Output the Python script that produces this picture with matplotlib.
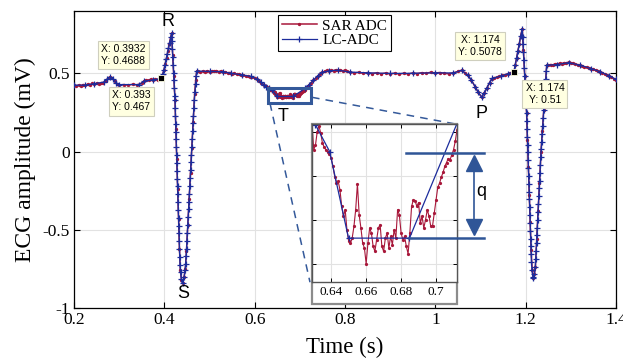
import matplotlib
matplotlib.use('Agg')
import matplotlib.pyplot as plt
import numpy as np
from matplotlib.patches import Rectangle

# ---- data (time s, amplitude mV) ----
# SAR ADC samples
sar_pts = [
    (0.200, 0.422), (0.205, 0.418), (0.210, 0.425), (0.215, 0.420), (0.220, 0.428),
    (0.225, 0.423), (0.230, 0.431), (0.235, 0.426), (0.240, 0.435), (0.245, 0.430),
    (0.250, 0.437), (0.255, 0.432), (0.260, 0.436), (0.265, 0.440), (0.270, 0.452),
    (0.275, 0.468), (0.280, 0.478), (0.285, 0.470), (0.290, 0.448), (0.295, 0.432),
    (0.300, 0.425), (0.310, 0.428), (0.320, 0.424), (0.330, 0.430), (0.340, 0.426),
    (0.350, 0.438), (0.355, 0.452), (0.360, 0.458), (0.365, 0.455), (0.370, 0.462),
    (0.375, 0.457), (0.380, 0.463), (0.385, 0.460), (0.390, 0.466), (0.3932, 0.4688),
    (0.396, 0.490), (0.399, 0.520), (0.402, 0.560), (0.405, 0.600), (0.408, 0.645),
    (0.411, 0.690), (0.414, 0.730), (0.416, 0.755), (0.4185, 0.620), (0.421, 0.480),
    (0.4236, 0.327), (0.4255, 0.145), (0.4275, -0.045), (0.4295, -0.240), (0.4315, -0.430),
    (0.4335, -0.620), (0.4355, -0.760), (0.438, -0.820), (0.4405, -0.838), (0.4435, -0.805),
    (0.4465, -0.750), (0.449, -0.635), (0.452, -0.470), (0.455, -0.305), (0.458, -0.140),
    (0.461, 0.025), (0.464, 0.190), (0.467, 0.365), (0.4695, 0.460), (0.4716, 0.514),
    (0.475, 0.512), (0.480, 0.508), (0.485, 0.514), (0.490, 0.510), (0.495, 0.516),
    (0.500, 0.511), (0.505, 0.515), (0.510, 0.512), (0.515, 0.517), (0.520, 0.511),
    (0.525, 0.514), (0.530, 0.508), (0.535, 0.510), (0.540, 0.503), (0.545, 0.505),
    (0.550, 0.498), (0.555, 0.500), (0.560, 0.494), (0.565, 0.495), (0.570, 0.490),
    (0.575, 0.488), (0.580, 0.483), (0.585, 0.484), (0.590, 0.478), (0.595, 0.476),
    (0.600, 0.470), (0.605, 0.462), (0.610, 0.452), (0.615, 0.440), (0.620, 0.428),
    (0.624, 0.418), (0.627, 0.410),
    # T wave, 1 kHz (zoomed region)
    (0.629, 0.4041), (0.630, 0.3920), (0.631, 0.3942), (0.632, 0.4003), (0.633, 0.4029),
    (0.634, 0.3995), (0.635, 0.3950), (0.636, 0.3932), (0.637, 0.3920), (0.638, 0.3908),
    (0.639, 0.3902), (0.640, 0.3882), (0.641, 0.3844), (0.642, 0.3798), (0.643, 0.3771),
    (0.644, 0.3776), (0.645, 0.3738), (0.646, 0.3662), (0.647, 0.3617), (0.648, 0.3647),
    (0.649, 0.3556), (0.650, 0.3503), (0.651, 0.3495), (0.652, 0.3518), (0.653, 0.3571),
    (0.654, 0.3647), (0.655, 0.3765), (0.656, 0.3624), (0.657, 0.3564), (0.658, 0.3495),
    (0.659, 0.3473), (0.660, 0.3402), (0.661, 0.3495), (0.662, 0.3564), (0.663, 0.3541),
    (0.664, 0.3480), (0.665, 0.3458), (0.666, 0.3511), (0.667, 0.3564), (0.668, 0.3579),
    (0.669, 0.3480), (0.670, 0.3458), (0.671, 0.3518), (0.672, 0.3541), (0.673, 0.3473),
    (0.674, 0.3526), (0.675, 0.3488), (0.676, 0.3556), (0.677, 0.3518), (0.678, 0.3647),
    (0.679, 0.3624), (0.680, 0.3541), (0.681, 0.3511), (0.682, 0.3526), (0.683, 0.3480),
    (0.684, 0.3447), (0.685, 0.3541), (0.686, 0.3662), (0.687, 0.3692), (0.688, 0.3689),
    (0.689, 0.3662), (0.690, 0.3680), (0.691, 0.3586), (0.692, 0.3617), (0.693, 0.3564),
    (0.694, 0.3602), (0.695, 0.3647), (0.696, 0.3617), (0.697, 0.3571), (0.698, 0.3574),
    (0.699, 0.3632), (0.700, 0.3692), (0.701, 0.3750), (0.702, 0.3768), (0.703, 0.3795),
    (0.704, 0.3817), (0.705, 0.3844), (0.706, 0.3862), (0.707, 0.3880), (0.708, 0.3874),
    (0.709, 0.3897), (0.710, 0.3920), (0.711, 0.3958), (0.712, 0.4011),
    (0.715, 0.410), (0.720, 0.424), (0.725, 0.440), (0.730, 0.455), (0.735, 0.470),
    (0.740, 0.484), (0.745, 0.496), (0.750, 0.506), (0.755, 0.512), (0.760, 0.518),
    (0.765, 0.515), (0.770, 0.521), (0.775, 0.517), (0.780, 0.523), (0.785, 0.518),
    (0.790, 0.522), (0.795, 0.516), (0.800, 0.519), (0.805, 0.512), (0.810, 0.508),
    (0.820, 0.502), (0.830, 0.506), (0.840, 0.500), (0.850, 0.505), (0.860, 0.498),
    (0.870, 0.503), (0.880, 0.497), (0.890, 0.502), (0.900, 0.496), (0.910, 0.501),
    (0.920, 0.495), (0.930, 0.500), (0.940, 0.496), (0.950, 0.502), (0.960, 0.498),
    (0.970, 0.504), (0.980, 0.500), (0.990, 0.507), (1.000, 0.502), (1.010, 0.505),
    (1.020, 0.499), (1.030, 0.497), (1.040, 0.503), (1.050, 0.512), (1.058, 0.519),
    (1.065, 0.505), (1.072, 0.487), (1.080, 0.455), (1.088, 0.415), (1.095, 0.378),
    (1.1025, 0.348), (1.108, 0.372), (1.114, 0.405), (1.120, 0.440), (1.125, 0.466),
    (1.130, 0.472), (1.136, 0.474), (1.142, 0.480), (1.148, 0.486), (1.154, 0.490),
    (1.160, 0.497), (1.165, 0.502), (1.169, 0.505), (1.174, 0.5078), (1.177, 0.555),
    (1.180, 0.600), (1.183, 0.645), (1.186, 0.690), (1.189, 0.740), (1.1925, 0.785),
    (1.195, 0.650), (1.198, 0.480), (1.2021, 0.244), (1.204, 0.075), (1.206, -0.100),
    (1.208, -0.280), (1.210, -0.450), (1.212, -0.630), (1.2145, -0.760), (1.217, -0.810),
    (1.2195, -0.780), (1.2215, -0.736), (1.2245, -0.560), (1.2275, -0.380), (1.2305, -0.200),
    (1.234, 0.000), (1.237, 0.130), (1.240, 0.265), (1.2435, 0.420), (1.2465, 0.551),
    (1.250, 0.552), (1.255, 0.556), (1.260, 0.553), (1.265, 0.560), (1.270, 0.558),
    (1.275, 0.565), (1.280, 0.562), (1.285, 0.568), (1.290, 0.566), (1.295, 0.572),
    (1.300, 0.566), (1.305, 0.563), (1.310, 0.558), (1.315, 0.556), (1.320, 0.550),
    (1.325, 0.548), (1.330, 0.541), (1.335, 0.540), (1.340, 0.533), (1.345, 0.530),
    (1.350, 0.526), (1.355, 0.520), (1.360, 0.516), (1.365, 0.509), (1.370, 0.504),
    (1.375, 0.496), (1.380, 0.490), (1.385, 0.482), (1.390, 0.476), (1.395, 0.466),
    (1.400, 0.459),
]

# LC-ADC level crossing samples
lc_pts = [
    (0.200, 0.424), (0.225, 0.424), (0.245, 0.434), (0.266, 0.444), (0.273, 0.462),
    (0.280, 0.476), (0.287, 0.462), (0.293, 0.440), (0.300, 0.428), (0.345, 0.428),
    (0.356, 0.450), (0.375, 0.458), (0.393, 0.467),
    (0.3965, 0.495), (0.3990, 0.520), (0.4015, 0.555), (0.4040, 0.590), (0.4065, 0.625),
    (0.4090, 0.660), (0.4115, 0.695), (0.4140, 0.730), (0.4160, 0.755),
    (0.4169, 0.705), (0.4178, 0.655), (0.4187, 0.605), (0.4196, 0.555), (0.4205, 0.505),
    (0.4213, 0.455), (0.4222, 0.405), (0.4231, 0.355), (0.4236, 0.327), (0.4241, 0.277),
    (0.4246, 0.227), (0.4252, 0.177), (0.4257, 0.127), (0.4262, 0.077), (0.4267, 0.027),
    (0.4272, -0.023), (0.4278, -0.073), (0.4283, -0.123), (0.4288, -0.173), (0.4293, -0.223),
    (0.4298, -0.273), (0.4304, -0.323), (0.4309, -0.373), (0.4314, -0.423), (0.4319, -0.473),
    (0.4324, -0.523), (0.4330, -0.573), (0.4335, -0.623), (0.4340, -0.673), (0.4346, -0.723),
    (0.4358, -0.773), (0.4375, -0.813), (0.4405, -0.838),
    (0.4440, -0.800), (0.4458, -0.760), (0.4470, -0.720), (0.4482, -0.670), (0.4491, -0.620),
    (0.4500, -0.570), (0.4509, -0.520), (0.4518, -0.470), (0.4527, -0.420), (0.4536, -0.370),
    (0.4545, -0.320), (0.4554, -0.270), (0.4563, -0.220), (0.4572, -0.170), (0.4581, -0.120),
    (0.4590, -0.070), (0.4600, -0.020), (0.4609, 0.030), (0.4618, 0.080), (0.4627, 0.130),
    (0.4636, 0.180), (0.4645, 0.230), (0.4654, 0.280), (0.4663, 0.330), (0.4677, 0.380),
    (0.4691, 0.430), (0.4705, 0.480), (0.4716, 0.514),
    (0.500, 0.512), (0.530, 0.510), (0.548, 0.500), (0.572, 0.490), (0.592, 0.480),
    (0.605, 0.462), (0.613, 0.445), (0.620, 0.428), (0.626, 0.412), (0.6309, 0.4035),
    (0.6391, 0.3912), (0.6499, 0.3518), (0.6848, 0.3518), (0.7118, 0.4036), (0.720, 0.425),
    (0.730, 0.455), (0.740, 0.484), (0.750, 0.506), (0.765, 0.516), (0.785, 0.520),
    (0.810, 0.508), (0.850, 0.503), (0.900, 0.499), (0.950, 0.500), (1.000, 0.503),
    (1.040, 0.502), (1.058, 0.518), (1.072, 0.488), (1.080, 0.455), (1.088, 0.415),
    (1.095, 0.378), (1.1025, 0.348), (1.108, 0.372), (1.114, 0.405), (1.120, 0.440),
    (1.126, 0.468), (1.145, 0.482), (1.160, 0.496), (1.174, 0.510),
    (1.1770, 0.555), (1.1800, 0.600), (1.1830, 0.645), (1.1860, 0.690), (1.1890, 0.740),
    (1.1925, 0.785), (1.1934, 0.735), (1.1943, 0.685), (1.1952, 0.635), (1.1961, 0.585),
    (1.1970, 0.535), (1.1979, 0.485), (1.1988, 0.435), (1.1997, 0.385), (1.2005, 0.335),
    (1.2014, 0.285), (1.2021, 0.244), (1.2027, 0.194), (1.2033, 0.144), (1.2038, 0.094),
    (1.2044, 0.044), (1.2050, -0.006), (1.2055, -0.056), (1.2061, -0.106), (1.2067, -0.156),
    (1.2072, -0.206), (1.2078, -0.256), (1.2084, -0.306), (1.2089, -0.356), (1.2095, -0.406),
    (1.2101, -0.456), (1.2106, -0.506), (1.2112, -0.556), (1.2118, -0.606), (1.2123, -0.656),
    (1.2129, -0.706), (1.2140, -0.756), (1.2160, -0.800), (1.2170, -0.810), (1.2195, -0.780),
    (1.2215, -0.736), (1.2223, -0.686), (1.2232, -0.636), (1.2240, -0.586), (1.2249, -0.536),
    (1.2257, -0.486), (1.2266, -0.436), (1.2274, -0.386), (1.2283, -0.336), (1.2291, -0.286),
    (1.2300, -0.236), (1.2308, -0.186), (1.2317, -0.136), (1.2325, -0.086), (1.2334, -0.036),
    (1.2343, 0.014), (1.2354, 0.064), (1.2366, 0.114), (1.2377, 0.164), (1.2388, 0.214),
    (1.2400, 0.264), (1.2411, 0.314), (1.2423, 0.364), (1.2434, 0.414), (1.2445, 0.464),
    (1.2457, 0.514), (1.2465, 0.551),
    (1.270, 0.556), (1.295, 0.568), (1.320, 0.552), (1.345, 0.530), (1.365, 0.510),
    (1.385, 0.484), (1.400, 0.461),
]

# data tips: (x, y, offset of the box in pixels)
tips = [
    (0.3932, 0.4688, (-38, 23)),
    (0.393, 0.467, (-30, -23)),
    (1.174, 0.5078, (-34, 26)),
    (1.174, 0.51, (31, -22)),
]
tip_marks_x = [0.3932, 1.174]
tip_marks_y = [0.4688, 0.5078]

x_ticks = [0.2, 0.4, 0.6, 0.8, 1.0, 1.2, 1.4]
x_ticklabels = ['0.2', '0.4', '0.6', '0.8', '1', '1.2', '1.4']
y_ticks = [-1, -0.5, 0, 0.5]
y_ticklabels = ['-1', '-0.5', '0', '0.5']
in_x_ticks = [0.64, 0.66, 0.68, 0.70]
in_x_ticklabels = ['0.64', '0.66', '0.68', '0.7']
in_y_ticks = [0.34, 0.36, 0.38, 0.40]

RED = '#A8173A'
BLUE = '#1C2C9C'
BOXC = '#34599A'
SANS = 'Liberation Sans'

plt.rcParams['font.family'] = 'Liberation Serif'
plt.rcParams['axes.unicode_minus'] = False

W, H = 623.0, 359.0


def fx(px):
    return px / W


def fy(py):
    return 1 - py / H


sar = np.array(sar_pts)
lc = np.array(lc_pts)

fig = plt.figure(figsize=(6.23, 3.59), dpi=100)
ax = fig.add_axes([fx(74), fy(308), (616 - 74) / W, (308 - 10.7) / H])

ax.plot(sar[:, 0], sar[:, 1], '-', color=RED, lw=1.1, marker='.', ms=2.8,
        label='SAR ADC', zorder=3)
ax.plot(lc[:, 0], lc[:, 1], '-', color=BLUE, lw=0.9, marker='+', ms=5, mew=0.9,
        label='LC-ADC', zorder=4)

ax.set_xlim(0.2, 1.4)
ax.set_ylim(-1, 0.9)
ax.set_xticks(x_ticks)
ax.set_xticklabels(x_ticklabels)
ax.set_yticks(y_ticks)
ax.set_yticklabels(y_ticklabels)
ax.tick_params(direction='in', top=True, right=True, length=4, width=0.8,
               labelsize=12.5, pad=3)
ax.grid(True, color='#E2E2E2', lw=0.8)
ax.set_axisbelow(True)
for s in ax.spines.values():
    s.set_linewidth(0.9)
ax.set_xlabel('Time (s)', fontsize=16.5, labelpad=6)
ax.set_ylabel('ECG amplitude (mV)', fontsize=17, labelpad=5)

leg = ax.legend(loc='upper left', bbox_to_anchor=(0.376, 0.985), fancybox=False,
                edgecolor='k', framealpha=1, fontsize=11, handlelength=2.3,
                borderpad=0.25, labelspacing=0.05, handletextpad=0.35, borderaxespad=0)
leg.get_frame().set_linewidth(0.8)

# wave labels
for txt, px, py in [('R', 168.3, 21.7), ('S', 183.3, 293.3), ('T', 283.3, 116.7),
                    ('P', 481.7, 113.3), ('q', 481.7, 191)]:
    fig.text(fx(px), fy(py), txt, ha='center', va='center', fontsize=13,
             family=SANS, zorder=20)

# data tips
ax.plot(tip_marks_x, tip_marks_y, 's', ms=5, color='k', mec='#FFFFE1', mew=0.6, zorder=7)
for x, y, off in tips:
    ax.annotate('X: %s\nY: %s' % (repr(x), repr(y)), xy=(x, y), xytext=off,
                textcoords='offset pixels', ha='center', va='center', fontsize=7.5,
                family=SANS, linespacing=1.25, zorder=8, annotation_clip=False,
                bbox=dict(boxstyle='square,pad=0.3', fc='#FFFFE1', ec='#CFCFBE', lw=0.8))

# zoom box around the T wave and connectors
ax.add_patch(Rectangle((0.6295, 0.3082), 0.0952, 0.0957, fill=False, ec=BOXC,
                       lw=2.2, zorder=6))
ax.plot([0.6339, 0.7225], [0.3082, -0.8353], color=BOXC, lw=1.1, dashes=(5, 4),
        zorder=5, clip_on=False)
ax.plot([0.7269, 1.048], [0.3465, 0.1742], color=BOXC, lw=1.1, dashes=(5, 4),
        zorder=5, clip_on=False)

# inset frame (includes tick label strip)
fig.add_artist(Rectangle((fx(312), fy(304)), (457 - 312) / W, (304 - 124.3) / H,
                         transform=fig.transFigure, fc='white', ec='#8C8C8C',
                         lw=1.6, zorder=3))

ax_in = fig.add_axes([fx(312), fy(282.3), (457 - 312) / W, (282.3 - 124.3) / H], zorder=4)
ax_in.plot(sar[:, 0], sar[:, 1], '-', color=RED, lw=0.8, marker='.', ms=2.6)
ax_in.plot(lc[:, 0], lc[:, 1], '-', color=BLUE, lw=0.9, marker='+', ms=4, mew=0.9)
ax_in.set_xlim(0.629, 0.712)
ax_in.set_ylim(0.3317, 0.4036)
ax_in.set_xticks(in_x_ticks)
ax_in.set_xticklabels(in_x_ticklabels)
ax_in.set_yticks(in_y_ticks)
ax_in.set_yticklabels([])
ax_in.tick_params(direction='in', length=3, width=0.7, labelsize=9.5, pad=2.5,
                  top=True, right=True)
ax_in.grid(True, color='#E2E2E2', lw=0.8)
ax_in.set_axisbelow(True)
for s in ax_in.spines.values():
    s.set_color('#555555')
    s.set_linewidth(1.0)

# q marker: level step of the LC-ADC
QC = '#2F5597'
ax_in.plot([0.6829, 0.7274], [0.3906, 0.3906], color=QC, lw=1.8, clip_on=False, zorder=10)
ax_in.plot([0.6846, 0.7274], [0.3518, 0.3518], color=QC, lw=1.8, clip_on=False, zorder=10)
ax_in.plot([0.7217, 0.7217], [0.3858, 0.3570], color=QC, lw=1.2, clip_on=False, zorder=10)
ax_in.plot([0.7217], [0.3858], marker='^', ms=12, color=QC, clip_on=False, zorder=11)
ax_in.plot([0.7217], [0.3570], marker='v', ms=12, color=QC, clip_on=False, zorder=11)

fig.savefig('out.png', dpi=100)
